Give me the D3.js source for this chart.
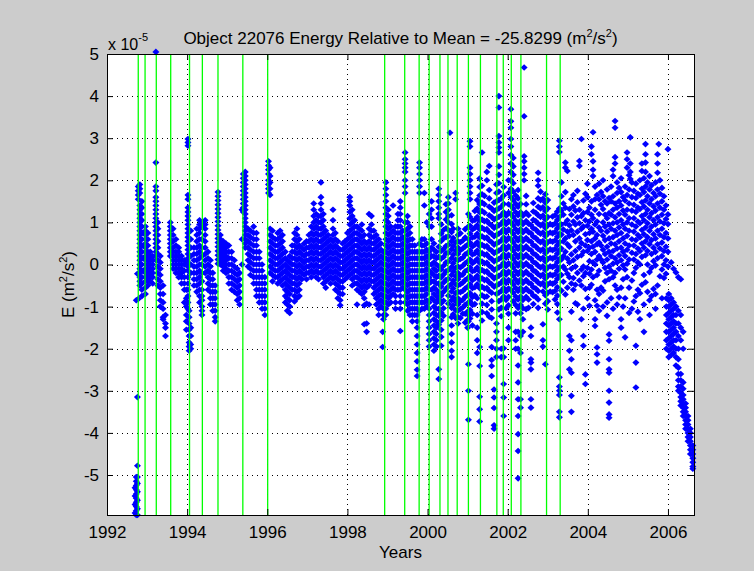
<!DOCTYPE html>
<html>
<head>
<meta charset="utf-8">
<script src="https://cdn.jsdelivr.net/npm/d3@7"></script>
<style>
  body { margin: 0; background: #cccccc; }
  #chart { width: 754px; height: 571px; }
  text { font-family: "Liberation Sans", Arial, sans-serif; fill: #000; }
</style>
</head>
<body>
<div id="chart"></div>
<script>

// Tick values
const xTicks = [1992, 1994, 1996, 1998, 2000, 2002, 2004, 2006];
const yTicks = [-5, -4, -3, -2, -1, 0, 1, 2, 3, 4, 5];

// Event epochs (green vertical lines), in years
const eventYears = [1992.78, 1992.95, 1993.23, 1993.59, 1994.06, 1994.38, 1994.77, 1995.39, 1996.01,
    1998.93, 1999.43, 1999.79, 2000.04, 2000.31, 2000.51, 2000.74, 2001.02, 2001.32, 2001.73,
    2001.89, 2002.09, 2002.33, 2002.97, 2003.31];

// Energy samples (units of 1e-5 m^2/s^2), grouped by epoch: [year, [values...]]
const pts1992 = [
    [1992.70, [-5.9, -5.7, -5.5, -5.3]],
    [1992.73, [-5.95, -5.85, -5.75, -5.65, -5.55, -5.45, -5.35, -5.25, -5.15, -5.05, -0.85]],
    [1992.76, [-5.95, -5.8, -5.6, -5.4, -5.2, -5.05, -4.78, -3.15, -0.22]],
    [1992.78, [1.85, 1.75, 1.65, 1.55, -0.82, -0.22]],
    [1992.82, [1.9, 1.8, 1.7, 1.4, 1.3, 1.2, 1.1, 1.0, 0.9, 0.8, 0.7, 0.6, 0.5, 0.4, 0.3, 0.2, 0.1, 0.0, -0.1, -0.2, -0.3, -0.4, -0.5]],
    [1992.87, [1.5, 1.35, 1.2, 1.05, 0.9, 0.75, 0.6, 0.45, 0.3, 0.15, 0, -0.15, -0.3, -0.45, -0.6, -0.75]],
    [1992.96, [0.9, 0.8, 0.7, 0.6, 0.5, 0.4, 0.3, 0.2, 0.1, 0, -0.1, -0.2, -0.3, -0.4, -0.55, -0.7]],
    [1993.02, [0.75, 0.6, 0.45, 0.3, 0.2, 0.1, 0, -0.1, -0.2, -0.3, -0.4, -0.5]],
    [1993.08, [0.3, 0.2, 0.1, 0, -0.1, -0.2, -0.3, -0.4]],
    [1993.14, [0.2, 0.1, 0, -0.1, -0.2, -0.3, -0.45]],
    [1993.22, [5.05, 2.42, 1.85, 1.75, 1.6, 1.5, 1.4, 1.3, 1.2, 1.1, 1.0, 0.9, 0.8, 0.7, 0.6, 0.5, 0.4, 0.3, 0.2, 0.1]],
    [1993.27, [1.0, 0.85, 0.7, 0.55, 0.4, 0.25, 0.1, -0.05, -0.2, -0.35, -0.5]],
    [1993.33, [0.2, 0.05, -0.1, -0.25, -0.4, -0.55, -0.7, -0.85, -1.0]],
    [1993.40, [-0.5, -0.7, -0.9, -1.05, -1.25, -1.3]],
    [1993.46, [-1.2, -1.4, -1.5, -1.7]],
    [1993.58, [1.0, 0.9, 0.8, 0.7, 0.6, 0.5, 0.4, 0.3, 0.2]],
    [1993.65, [0.85, 0.7, 0.55, 0.4, 0.3, 0.2, 0.1, 0, -0.1]],
    [1993.72, [0.6, 0.45, 0.3, 0.2, 0.1, 0, -0.1, -0.2]],
    [1993.79, [0.4, 0.3, 0.2, 0.1, 0, -0.1, -0.2, -0.3]],
    [1993.86, [0.2, 0.1, 0, -0.1, -0.2, -0.3, -0.45]],
    [1993.93, [0.1, 0, -0.15, -0.3, -0.45, -0.6, -0.9]],
    [1993.98, [-0.6, -0.8, -1.0, -1.2, -1.35, -1.55]],
    [1994.02, [2.98, 2.9, 2.82, 1.65, 1.55, 1.35, 1.25, 1.15, 1.05, 0.95, 0.85, 0.75, 0.65, 0.55, 0.45, 0.35, 0.25, 0.15, 0.05, -0.05, -0.15, -0.3, -0.45, -0.6, -0.75, -0.9, -1.05]],
    [1994.05, [-1.1, -1.25, -1.4, -1.55, -1.7, -1.85, -1.95, -2.05]],
    [1994.09, [0.8, 0.6, 0.4, 0.2, 0, -0.2, -1.5, -1.7, -1.9, -2.0]],
    [1994.17, [0.4, 0.25, 0.1, -0.05, -0.2, -0.35, -0.5]],
    [1994.24, [0.85, 0.7, 0.55, 0.4, 0.25, 0.1, -0.05, -0.2, -0.35, -0.5, -0.65]],
    [1994.31, [1.05, 0.95, 0.85, 0.75, 0.6, 0.45, 0.3, 0.15, 0, -0.15, -0.3, -0.45, -0.6, -0.75, -0.9]],
    [1994.37, [1.0, 0.9, 0.6, 0.4, 0.2, 0, -0.2, -0.4, -0.6, -0.75, -0.85, -1.0, -1.1, -1.2]],
    [1994.45, [1.05, 0.95, 0.85, 0.7, 0.55, 0.4, 0.25, 0.1, -0.05, -0.2]],
    [1994.52, [0.3, 0.15, 0, -0.15, -0.3, -0.45, -0.6]],
    [1994.58, [0.1, -0.05, -0.2, -0.35, -0.5, -0.65, -0.8, -0.95]],
    [1994.64, [-0.2, -0.35, -0.5, -0.65, -0.8, -0.95, -1.1]],
    [1994.70, [-0.5, -0.65, -0.8, -0.95, -1.1, -1.25, -1.35]],
    [1994.77, [1.72, 1.62, 1.52, 1.42, 1.32, 1.22, 1.12, 1.02, 0.92, 0.82, 0.72, 0.62, 0.52, 0.42, 0.32, 0.22, 0.12, 0.02]],
    [1994.83, [0.7, 0.6, 0.5, 0.4, 0.3, 0.2, 0.1, 0]],
    [1994.90, [0.55, 0.45, 0.35, 0.25, 0.15, 0.05, -0.05, -0.15]],
    [1994.97, [0.5, 0.4, 0.3, 0.2, 0.1, 0, -0.1, -0.2]],
    [1995.04, [0.45, 0.3, 0.15, 0, -0.15, -0.3, -0.45]],
    [1995.11, [0.3, 0.15, 0, -0.15, -0.3, -0.45, -0.6]],
    [1995.18, [0.1, -0.05, -0.2, -0.35, -0.5, -0.65]],
    [1995.25, [-0.1, -0.25, -0.4, -0.55, -0.7, -0.85]],
    [1995.31, [-0.2, -0.35, -0.5, -0.65, -0.8, -0.95]],
    [1995.37, [1.3, 0.6, 0.0]],
    [1995.40, [2.15, 2.05, 1.95, 1.85, 1.75, 1.65, 1.55, 1.45, 1.35, 1.25]],
    [1995.45, [2.2, 2.1, 2.0, 1.9, 1.8, 1.7, 1.6, 1.5, 1.4, 1.3, 1.2, 1.1, 1.0, 0.9, 0.8, 0.7, 0.6, 0.5, 0.4]],
    [1995.52, [0.85, 0.7, 0.55, 0.4, 0.25, 0.1, -0.05]],
    [1995.58, [0.8, 0.65, 0.5, 0.35, 0.2, 0.05, -0.1, -0.25]],
    [1995.66, [0.9, 0.75, 0.6, 0.45, 0.3, 0.15, 0, -0.15, -0.3, -0.45]],
    [1995.73, [0.75, 0.6, 0.45, 0.3, 0.15, 0, -0.15, -0.3, -0.45, -0.6, -0.75]],
    [1995.80, [0.3, 0.15, 0, -0.15, -0.3, -0.45, -0.6, -0.75, -0.9]],
    [1995.87, [0, -0.15, -0.3, -0.45, -0.6, -0.75, -0.9, -1.05]],
    [1995.94, [-0.3, -0.45, -0.6, -0.75, -0.9, -1.05, -1.2]]
];

const pts1996 = [
    [1996.03, [2.45, 2.35, 2.25, 2.15, 2.0, 1.9, 1.8, 1.7]],
    [1996.07, [2.3, 2.1, 1.95, 1.8, 1.65, 0.85, 0.7, 0.55, 0.4, 0.25, 0.1, -0.05, -0.2]],
    [1996.13, [0.8, 0.65, 0.5, 0.35, 0.2, 0.05, -0.1, -0.25, -0.4]],
    [1996.20, [0.6, 0.45, 0.3, 0.15, 0, -0.15, -0.3]],
    [1996.26, [0.75, 0.6, 0.45, 0.3, 0.15, 0, -0.15, -0.3, -0.45]],
    [1996.32, [0.8, 0.65, 0.5, 0.35, 0.2, 0.05, -0.1, -0.25, -0.4]],
    [1996.38, [0.7, 0.55, 0.4, 0.25, 0.1, -0.05, -0.2, -0.35, -0.5]],
    [1996.45, [0.3, 0.15, 0, -0.15, -0.3, -0.45, -0.6, -0.75, -0.9]],
    [1996.50, [0.1, -0.05, -0.2, -0.35, -0.5, -0.65, -0.8, -0.95, -1.1]],
    [1996.56, [0.2, 0.05, -0.1, -0.25, -0.4, -0.55, -0.7, -0.85, -1.0, -1.15]],
    [1996.62, [0.45, 0.3, 0.15, 0, -0.15, -0.3, -0.45, -0.6]],
    [1996.68, [0.75, 0.6, 0.45, 0.3, 0.15, 0, -0.15, -0.3, -0.45, -0.6, -0.75, -0.88]],
    [1996.74, [0.85, 0.7, 0.55, 0.4, 0.25, 0.1, -0.05, -0.2, -0.35, -0.5, -0.65, -0.8]],
    [1996.80, [0.6, 0.45, 0.3, 0.15, 0, -0.15, -0.3, -0.45, -0.6, -0.75]],
    [1996.86, [0.4, 0.25, 0.1, -0.05, -0.2, -0.35]],
    [1996.92, [0.5, 0.35, 0.2, 0.05, -0.1, -0.25]],
    [1996.98, [0.55, 0.4, 0.25, 0.1, -0.05, -0.2, -0.35]],
    [1997.04, [0.7, 0.55, 0.4, 0.25, 0.1, -0.05, -0.2]],
    [1997.10, [0.9, 0.75, 0.6, 0.45, 0.3, 0.15, 0, -0.15, -0.3]],
    [1997.16, [1.45, 1.3, 1.15, 1.0, 0.85, 0.7, 0.55, 0.4, 0.25, 0.1, -0.05, -0.2]],
    [1997.22, [1.2, 1.05, 0.9, 0.75, 0.6, 0.45, 0.3, 0.15, 0, -0.15, -0.3]],
    [1997.28, [1.15, 1.0, 0.85, 0.7, 0.55, 0.4, 0.25, 0.1, -0.05, -0.2, -0.35]],
    [1997.34, [1.95, 1.6, 1.45, 1.3, 1.15, 1.0, 0.85, 0.7, 0.55, 0.4, 0.25, 0.1, -0.05, -0.2]],
    [1997.40, [1.2, 1.05, 0.9, 0.75, 0.6, 0.45, 0.3, 0.15, 0, -0.15, -0.3, -0.45]],
    [1997.46, [0.8, 0.65, 0.5, 0.35, 0.2, 0.05, -0.1, -0.25, -0.4, -0.55]],
    [1997.52, [0.7, 0.55, 0.4, 0.25, 0.1, -0.05, -0.2, -0.35]],
    [1997.58, [0.6, 0.45, 0.3, 0.15, 0, -0.15, -0.3, -0.45]],
    [1997.64, [1.3, 1.05, 0.85, 0.7, 0.55, 0.4, 0.25, 0.1, -0.05, -0.2, -0.35]],
    [1997.70, [0.75, 0.6, 0.45, 0.3, 0.15, 0, -0.15, -0.3, -0.45, -0.6]],
    [1997.76, [0.55, 0.4, 0.25, 0.1, -0.05, -0.2, -0.35, -0.5, -0.65, -0.8]],
    [1997.82, [0.35, 0.2, 0.05, -0.1, -0.25, -0.4, -0.55, -0.7, -0.85, -0.97]],
    [1997.88, [0.5, 0.35, 0.2, 0.05, -0.1, -0.25, -0.4, -0.55, -0.7]],
    [1997.94, [0.55, 0.4, 0.25, 0.1, -0.05, -0.2, -0.35]],
    [1998.00, [0.75, 0.6, 0.45, 0.3, 0.15, 0, -0.15, -0.3]],
    [1998.06, [1.6, 1.5, 1.4, 1.25, 1.1, 0.95, 0.8, 0.65, 0.5, 0.35, 0.2, 0.05, -0.1, -0.25]],
    [1998.12, [1.3, 1.15, 1.0, 0.85, 0.7, 0.55, 0.4, 0.25, 0.1, -0.05, -0.2, -0.35, -0.5]],
    [1998.18, [1.05, 0.9, 0.75, 0.6, 0.45, 0.3, 0.15, 0, -0.15, -0.3, -0.45]],
    [1998.24, [0.9, 0.75, 0.6, 0.45, 0.3, 0.15, 0, -0.15, -0.3, -0.45, -0.6, -0.95]],
    [1998.30, [0.85, 0.7, 0.55, 0.4, 0.25, 0.1, -0.05, -0.2, -0.35, -0.5, -0.65]],
    [1998.36, [0.95, 0.8, 0.65, 0.5, 0.35, 0.2, 0.05, -0.1, -0.25, -0.4, -0.55, -0.7]],
    [1998.42, [0.7, 0.55, 0.4, 0.25, 0.1, -0.05, -0.2, -0.35, -0.5, -0.65, -0.8, -0.97, -1.42]],
    [1998.48, [0.5, 0.35, 0.2, 0.05, -0.1, -0.25, -0.4, -0.55, -0.93, -1.4, -1.6]],
    [1998.54, [1.2, 0.85, 0.7, 0.55, 0.4, 0.25, 0.1, -0.05, -0.2, -0.35, -0.5, -0.95]],
    [1998.60, [1.15, 0.95, 0.8, 0.65, 0.5, 0.35, 0.2, 0.05, -0.1, -0.25, -0.4]],
    [1998.66, [0.8, 0.65, 0.5, 0.35, 0.2, 0.05, -0.1, -0.25, -0.4, -0.55, -0.7]],
    [1998.72, [0.7, 0.55, 0.4, 0.25, 0.1, -0.05, -0.2, -0.35, -0.5, -0.65, -0.8, -0.95]],
    [1998.78, [0.6, 0.45, 0.3, 0.15, 0, -0.15, -0.3, -0.45, -0.6, -0.75, -0.9, -1.05, -1.2]],
    [1998.84, [0.5, 0.35, 0.2, 0.05, -0.1, -0.25, -0.4, -0.55, -0.7, -0.85, -1.0]],
    [1998.88, [-1.6, -1.96]],
    [1998.90, [0.3, 0.15, 0, -0.15, -0.3, -0.45, -0.6, -0.75, -0.9, -1.05, -1.2, -1.3]]
];

const pts1999 = [
    [1998.96, [1.95, 1.8, 1.65, 1.5, 1.35, 1.2, 1.05, 0.9, 0.75, 0.6, 0.45, 0.3, 0.15, 0, -0.15, -0.3, -0.45, -0.6, -0.75, -0.9, -1.05, -1.2]],
    [1999.02, [1.3, 1.15, 1.0, 0.85, 0.7, 0.55, 0.4, 0.25, 0.1, -0.05, -0.2, -0.35, -0.5, -0.65, -0.8, -0.95]],
    [1999.08, [0.9, 0.75, 0.6, 0.45, 0.3, 0.15, 0, -0.15, -0.3, -0.45, -0.6, -0.75, -0.9]],
    [1999.14, [1.4, 0.8, 0.65, 0.5, 0.35, 0.2, 0.05, -0.1, -0.25, -0.4, -0.55, -0.7]],
    [1999.20, [0.9, 0.75, 0.6, 0.45, 0.3, 0.15, 0, -0.15, -0.3, -0.45, -0.6, -0.75, -0.9, -1.05]],
    [1999.26, [1.2, 1.05, 0.9, 0.75, 0.6, 0.45, 0.3, 0.15, 0, -0.15, -0.3, -0.45, -0.6]],
    [1999.32, [1.5, 1.35, 1.2, 1.05, 0.9, 0.75, 0.6, 0.45, 0.3, 0.15, 0, -0.15, -0.3, -0.45, -0.6, -0.75, -0.9, -1.05, -1.58]],
    [1999.38, [0.8, 0.65, 0.5, 0.35, 0.2, 0.05, -0.1, -0.25, -0.4, -0.55]],
    [1999.44, [2.66, 2.5, 2.4, 2.3, 2.2, 2.0, 1.85, 1.7, 1.0, 0.8, 0.6, 0.45, 0.3, 0.15, 0, -0.15, -0.3, -0.45, -0.6, -0.75, -0.9]],
    [1999.50, [1.15, 1.0, 0.85, 0.7, 0.55, 0.4, 0.25, 0.1, -0.05, -0.2, -0.35, -0.5, -0.65, -0.8, -0.95, -1.1]],
    [1999.56, [0.9, 0.75, 0.6, 0.45, 0.3, 0.15, 0, -0.15, -0.3, -0.45, -0.6, -0.75, -0.9, -1.05, -1.2]],
    [1999.62, [0.6, 0.45, 0.3, 0.15, 0, -0.15, -0.3, -0.45, -0.6, -0.75, -0.9, -1.05, -1.2, -1.35]],
    [1999.68, [0.45, 0.3, 0.15, 0, -0.15, -0.3, -0.45, -0.6, -0.75, -0.9, -1.05, -1.2]],
    [1999.74, [0.3, 0.15, 0, -0.15, -0.3, -0.45, -0.6, -0.75, -0.9, -1.05, -1.2, -1.35, -1.5, -1.7, -1.9, -2.1, -2.3, -2.5, -2.65]],
    [1999.80, [2.42, 2.3, 2.15, 2.0, 1.85, 1.7, 0.5, 0.3, 0.15, 0, -0.15, -0.3, -0.45, -0.6, -0.75, -0.9, -1.1]],
    [1999.86, [0.6, 0.45, 0.3, 0.15, 0, -0.15, -0.3, -0.45, -0.6, -0.75, -0.9, -1.05]],
    [1999.92, [1.7, 1.4, 0.6, 0.45, 0.3, 0.15, 0, -0.15, -0.3, -0.45, -0.6, -0.75, -0.9, -1.05]],
    [1999.98, [1.0, 0.5, 0.35, 0.2, 0.05, -0.1, -0.25, -0.4, -0.55, -0.7, -0.85, -1.0]],
    [2000.04, [1.2, 0.9, 0.3, 0.15, 0, -0.15, -0.3, -0.45, -0.6, -0.9, -1.05, -1.2, -1.35, -1.5, -1.65, -1.8, -1.95]],
    [2000.10, [1.5, 1.3, 1.1, 0.9, 0.6, 0.4, 0.2, 0, -0.2, -0.4, -0.6, -0.8]],
    [2000.16, [0.5, 0.35, 0.2, 0.05, -0.1, -0.25, -0.4, -0.55, -0.7, -0.85, -1.0, -1.15, -1.3, -1.45, -1.6, -1.75, -1.9, -2.05]],
    [2000.22, [0.3, 0.15, 0, -0.15, -0.3, -0.45, -0.6, -0.75, -0.9, -1.05, -1.2, -1.35, -1.5, -1.65, -1.8, -1.95]],
    [2000.28, [1.8, 1.65, 1.5, 1.35, 1.2, 1.1, 0.42, 0.18, -0.04, -0.27, -0.45, -0.66, -0.83, -1.05, -1.22, -1.43, -2.49, -2.72]],
    [2000.34, [0.95, 0.73, 0.56, 0.32, 0.14, -0.12, -0.31, -0.53, -0.74, -0.92, -1.14, -1.33, -1.55, -1.72, -1.93]],
    [2000.40, [0.82, 0.62, 0.37, 0.18, -0.03, -0.24, -0.43, -0.65, -0.86, -1.04, -1.22]],
    [2000.46, [1.43, 1.25, 1.07, 0.86, 0.65, 0.44, 0.27, 0.05, -0.16, -0.37, -0.58]],
    [2000.52, [1.6, 1.45, 1.3, 1.15, 1.0, 0.82, 0.67, 0.47, 0.28, 0.07, -0.13, -0.34, -0.52, -0.74, -0.93]],
    [2000.56, [3.13]],
    [2000.60, [1.17, 0.96, 0.77, 0.55, 0.36, 0.15, -0.06, -0.25, -0.46, -0.64, -0.85, -1.03, -1.25, -1.45, -1.65, -1.85, -2.05, -2.2]],
    [2000.64, [0.85, 0.63, 0.44, 0.23, 0.03, -0.17, -0.38, -0.57, -0.78, -0.97, -1.18]],
    [2000.70, [1.7, 1.55, 0.53, 0.33, 0.12, -0.08, -0.28, -0.47, -0.68, -0.87, -1.08, -1.27]],
    [2000.76, [0.85, 0.7, 0.55, 0.4, 0.25, 0.1, -0.05, -0.2, -0.35, -0.5, -0.65, -0.8, -0.95, -1.1, -1.25, -1.4]],
    [2000.82, [0.74, 0.53, 0.34, 0.13, -0.07, -0.26, -0.47, -0.66, -0.87, -1.06, -1.27]],
    [2000.88, [0.57, 0.38, 0.16, -0.03, -0.24, -0.43, -0.63, -0.84, -1.02, -1.17]],
    [2000.94, [0.84, 0.64, 0.43, 0.24, 0.03, -0.16, -0.37, -0.57, -0.77, -0.96, -1.17, -1.38]],
    [2001.00, [0.47, 0.27, 0.07, -0.13, -0.33, -0.53, -0.73, -0.92, -1.12, -1.32, -1.5]],
    [2001.02, [1.2, 0.9, 0.6, -1.2, -1.35, -2.37, -3.0, -3.69]],
    [2001.06, [2.93, 2.8, 2.3, 2.15, 2.0, 1.85, 1.7, 1.55, 1.13, 0.92, 0.73, 0.52, 0.33, 0.12, -0.07, -0.28, -0.47, -0.68, -0.87, -1.08, -1.28]],
    [2001.12, [1.04, 0.83, 0.64, 0.43, 0.24, 0.03, -0.16, -0.37, -0.56, -0.77, -0.96, -1.17, -1.45]],
    [2001.18, [1.27, 1.06, 0.87, 0.66, 0.47, 0.26, 0.07, -0.14, -0.33, -0.54, -0.73, -0.94]],
    [2001.24, [1.53, 1.33, 1.13, 0.93, 0.73, 0.53, 0.33, 0.13, -0.07, -0.27, -0.47, -0.8, -1.2, -1.5, -1.8, -2.1]],
    [2001.30, [2.04, 1.84, 1.64, 1.44, 1.24, 1.04, 0.84, 0.64, 0.44, 0.24, 0.04, -0.16, -0.36, -0.56, -1.96, -2.41, -3.14, -3.44, -3.73]],
    [2001.36, [2.66, 1.87, 1.67, 1.47, 1.27, 1.07, 0.87, 0.67, 0.47, 0.27, 0.07, -0.13, -0.33, -0.53, -0.73, -0.93, -1.13, -1.33]],
    [2001.42, [1.63, 1.43, 1.23, 1.03, 0.83, 0.63, 0.43, 0.23, 0.03, -0.17, -0.37, -0.57, -0.77]],
    [2001.48, [2.2, 2.0, 1.04, 0.84, 0.64, 0.44, 0.24, 0.04, -0.16, -0.36, -0.56, -0.76, -0.96, -1.16]],
    [2001.54, [2.34, 1.77, 1.57, 1.37, 1.17, 0.97, 0.77, 0.57, 0.37, 0.17, -0.03, -0.23, -0.43, -0.63, -1.24]],
    [2001.60, [1.33, 1.13, 0.93, 0.73, 0.53, 0.33, 0.13, -0.07, -0.27, -0.47, -0.67, -0.87, -1.07, -1.27, -1.96, -2.27, -2.41, -2.65]],
    [2001.66, [1.47, 1.27, 1.07, 0.87, 0.67, 0.47, 0.27, 0.07, -0.13, -0.33, -0.53, -2.97, -3.16, -3.41, -3.82, -3.9]],
    [2001.72, [1.9, 1.7, 1.5, 1.3, 1.1, 0.9, 0.7, 0.5, 0.3, 0.1, -0.1, -0.3, -0.5, -0.7, -1.4, -1.6, -1.8, -2.0, -2.2]],
    [2001.78, [4.0, 3.73, 3.05, 2.9, 2.78, 2.66, 2.33, 2.13, 1.93, 1.73, 1.53, 1.33, 1.13, 0.93, 0.73, 0.53, 0.33, 0.13, -0.07, -0.27, -0.47, -0.67, -0.87, -1.07]],
    [2001.84, [1.57, 1.37, 1.17, 0.97, 0.77, 0.57, 0.37, 0.17, -0.03, -0.23, -0.43, -0.63, -0.83, -1.03, -1.23, -2.0, -2.2]],
    [2001.90, [1.84, 1.64, 1.44, 1.24, 1.04, 0.84, 0.64, 0.44, 0.24, 0.04, -0.16, -0.36, -0.56, -0.76, -1.99, -2.2, -2.84, -3.16, -3.6]],
    [2001.96, [1.16, 0.96, 0.76, 0.56, 0.36, 0.16, -0.04, -0.24, -0.44, -0.64, -0.84, -1.04]],
    [2002.02, [2.0, 1.7, 1.43, 1.23, 1.03, 0.83, 0.63, 0.43, 0.23, 0.03, -0.17, -0.37, -0.57, -0.77, -0.97, -1.17, -1.5, -1.8]],
    [2002.08, [3.69, 3.4, 3.25, 2.98, 2.8, 2.6, 2.4, 2.2, 2.0, 1.8, 1.6, 1.4, 1.2, 1.0, 0.8, 0.6, 0.4, 0.2, 0, -0.2, -0.4, -0.6]],
    [2002.14, [2.53, 2.33, 2.13, 1.93, 1.73, 1.53, 1.33, 1.13, 0.93, 0.73, 0.53, 0.33, 0.13, -0.07, -0.27, -0.47, -0.67, -0.87]],
    [2002.20, [1.64, 1.44, 1.24, 1.04, 0.84, 0.64, 0.44, 0.24, 0.04, -0.16, -0.36, -0.56, -0.76, -0.96, -1.16, -1.6, -1.8, -2.0]],
    [2002.26, [1.77, 1.57, 1.37, 1.17, 0.97, 0.77, 0.57, 0.37, 0.17, -0.03, -0.23, -0.43, -0.63, -0.83, -1.03, -1.6, -2.0, -2.4, -2.8, -3.2, -3.6, -4.03, -4.43, -5.08]],
    [2002.32, [1.44, 1.24, 1.04, 0.84, 0.64, 0.44, 0.24, 0.04, -0.16, -0.36, -0.56, -0.76, -0.96, -1.16, -1.7, -2.1, -3.2, -3.4]],
    [2002.38, [1.16, 0.96, 0.76, 0.56, 0.36, 0.16, -0.04, -0.24, -0.44, -0.64, -0.84, -1.04, -1.3, -1.6]],
    [2002.41, [4.68, 3.52, 2.57, 2.45, 2.3, 2.15, 2.0]],
    [2002.46, [1.63, 1.43, 1.23, 1.03, 0.83, 0.63, 0.43, 0.23, 0.03, -0.17, -0.37, -0.57, -0.77, -1.06]],
    [2002.52, [1.17, 0.97, 0.77, 0.57, 0.37, 0.17, -0.03, -0.23, -0.43, -0.63, -0.83, -1.03]],
    [2002.58, [0.94, 0.74, 0.54, 0.34, 0.14, -0.06, -0.26, -0.46, -0.66, -1.5, -1.7, -2.25, -2.33, -2.49, -3.2, -3.4]],
    [2002.64, [1.46, 1.26, 1.06, 0.86, 0.66, 0.46, 0.26, 0.06, -0.14, -0.34, -0.54, -0.74, -0.94]],
    [2002.70, [1.23, 1.03, 0.83, 0.63, 0.43, 0.23, 0.03, -0.17, -0.37, -0.57, -0.77]],
    [2002.76, [2.18, 2.0, 1.87, 1.57, 1.37, 1.17, 0.97, 0.77, 0.57, 0.37, 0.17, -0.03, -0.23, -0.43, -0.63, -0.83, -1.03]],
    [2002.82, [1.73, 1.53, 1.33, 1.13, 0.93, 0.73, 0.53, 0.33, 0.13, -0.07, -0.27, -0.47]],
    [2002.88, [1.56, 1.36, 1.16, 0.96, 0.76, 0.56, 0.36, 0.16, -0.04, -0.24, -0.44, -0.64, -1.42, -1.8, -1.95]],
    [2002.94, [1.67, 1.47, 1.27, 1.07, 0.87, 0.67, 0.47, 0.27, 0.07, -0.13, -0.33, -0.53, -0.73, -0.93, -2.37]],
    [2003.00, [1.53, 1.33, 1.13, 0.93, 0.73, 0.53, 0.33, 0.13, -0.07, -0.27, -0.47, -0.67, -0.87, -1.07]],
    [2003.06, [0.96, 0.76, 0.56, 0.36, 0.16, -0.04, -0.24, -0.44, -0.64]],
    [2003.12, [1.14, 0.94, 0.74, 0.54, 0.34, 0.14, -0.06, -0.26, -0.46, -0.66]],
    [2003.18, [1.17, 0.97, 0.77, 0.57, 0.37, 0.17, -0.03, -0.23, -0.43, -0.63, -0.83]],
    [2003.24, [1.26, 1.06, 0.86, 0.66, 0.46, 0.26, 0.06, -0.14, -0.34, -0.54, -0.74, -0.94, -1.14]],
    [2003.29, [2.94, 2.8, 2.67, 1.33, 1.13, 0.93, 0.73, 0.53, 0.33, 0.13, -0.07, -0.27, -1.3, -2.68, -2.9, -3.0, -3.1, -3.5, -3.63]]
];

const pts2003 = [
    [2003.34, [1.95, 1.62, 1.28, 0.95, 0.71, 0.38, 0.12, -0.25, -0.62]],
    [2003.39, [1.45, 1.18, 0.83, 0.55, 0.2, -0.05, -0.41]],
    [2003.44, [2.42, 2.3, 1.72, 1.35, 0.98, 0.62, 0.3, -0.12, -0.71]],
    [2003.49, [2.22, 1.05, 0.78, 0.48, 0.14, -0.22, -0.55]],
    [2003.54, [1.32, 0.93, 0.68, 0.42, 0.05, -0.3, -1.7, -2.05, -2.49]],
    [2003.59, [1.55, 1.18, 0.81, 0.24, -0.1, -0.45, -1.12, -1.8, -2.25, -2.57, -3.12, -3.5]],
    [2003.64, [1.65, 1.38, 1.02, 0.7, 0.1, -0.32, -0.6]],
    [2003.69, [1.28, 0.95, 0.55, 0.32, -0.05, -0.48, -0.92]],
    [2003.74, [1.75, 1.48, 1.12, 0.78, 0.18, -0.2, -0.95]],
    [2003.79, [2.46, 2.34, 1.3, 0.98, 0.62, 0.4, -0.38]],
    [2003.84, [2.98, 1.15, 0.85, 0.51, 0.22, -0.12, -0.5, -1.3]],
    [2003.89, [1.52, 1.22, 0.9, 0.3, -0.05, -0.28, -1.05, -1.7, -1.93]],
    [2003.94, [1.68, 1.05, 0.72, 0.45, -0.2, -0.58, -2.61, -2.84]],
    [2003.99, [1.92, 1.6, 1.25, 0.92, 0.58, 0.32, -0.08, -0.8]],
    [2004.04, [1.35, 1.02, 0.75, 0.4, 0.08, -0.22, -0.55, -0.98]],
    [2004.09, [2.8, 2.62, 1.5, 1.18, 0.85, 0.55, 0.25, -0.12, -0.48]],
    [2004.13, [3.14, 2.45, 2.25, 2.1, 1.1, 0.78, 0.42, 0.05, -0.3]],
    [2004.18, [1.85, 1.55, 1.3, 0.95, 0.62, 0.3, 0, -0.85, -1.3, -1.46]],
    [2004.23, [1.65, 1.02, 0.7, 0.48, 0.12, -0.25, -0.6, -0.98, -1.97, -2.13, -2.33]],
    [2004.28, [1.92, 1.55, 1.2, 0.88, 0.52, 0.2, -0.15, -0.7, -1.1]],
    [2004.33, [1.72, 1.42, 0.8, 0.45, 0.12, -0.55]],
    [2004.38, [2.0, 1.62, 1.32, 1.0, 0.68, 0.35, 0.05, -0.62, -1.0]],
    [2004.43, [1.5, 1.18, 0.9, 0.58, 0.25, -0.08, -0.4]],
    [2004.48, [1.78, 1.45, 1.1, 0.78, 0.42, 0.12, -0.2, -0.9, -1.22]],
    [2004.53, [1.58, 1.22, 0.95, 0.62, 0.3, -0.05, -0.35, -1.66, -1.81, -2.25, -2.49, -2.57, -3.0, -3.28, -3.56, -3.64]],
    [2004.58, [1.85, 1.5, 1.18, 0.85, 0.5, 0.2, -0.15, -0.8]],
    [2004.63, [2.25, 2.1, 1.62, 1.3, 0.98, 0.65, 0.32, 0.02, -0.3, -1.05]],
    [2004.68, [3.41, 3.25, 2.55, 2.4, 1.45, 1.12, 0.8, 0.48, 0.15, -0.2, -0.5]],
    [2004.73, [1.95, 1.7, 1.35, 1.0, 0.7, 0.38, 0.05, -0.6, -0.95]],
    [2004.78, [1.82, 1.5, 1.2, 0.88, 0.55, 0.22, -0.1, -0.78]],
    [2004.83, [2.05, 1.72, 1.4, 1.05, 0.75, 0.4, 0.1, -0.55, -1.3, -1.5]],
    [2004.88, [1.6, 1.28, 0.95, 0.62, 0.3, -0.02, -0.35, -1.0]],
    [2004.93, [1.85, 1.52, 1.18, 0.85, 0.5, 0.2, -0.12, -0.8, -1.73]],
    [2004.98, [2.66, 2.5, 2.3, 1.65, 1.3, 1.0, 0.68, 0.35, 0.02, -0.3]],
    [2005.03, [2.12, 1.78, 1.45, 1.1, 0.8, 0.45, 0.12, -0.55, -1.15]],
    [2005.06, [3.02, 2.4, 2.2, 2.03]],
    [2005.10, [1.95, 1.6, 1.28, 0.95, 0.6, 0.28, -0.38, -1.05]],
    [2005.15, [1.75, 1.42, 1.1, 0.78, 0.45, 0.12, -0.2, -0.88]],
    [2005.20, [1.92, 1.58, 1.25, 0.9, 0.58, 0.25, -0.08, -0.75, -1.93, -2.33, -2.92]],
    [2005.25, [1.68, 1.35, 1.02, 0.7, 0.38, 0.05, -0.6, -1.12]],
    [2005.30, [2.0, 1.65, 1.32, 0.98, 0.65, 0.32, 0, -0.68, -1.3]],
    [2005.35, [2.4, 2.22, 1.8, 1.48, 1.15, 0.82, 0.5, 0.18, -0.48]],
    [2005.40, [2.05, 1.72, 1.38, 1.05, 0.72, 0.4, -0.25, -0.95, -1.6]],
    [2005.44, [2.86, 2.62, 2.42, 2.2, 1.85, 1.52, 1.2, 0.88, 0.55, 0.22, -0.42]],
    [2005.49, [1.95, 1.62, 1.3, 0.98, 0.65, 0.32, 0, -0.65]],
    [2005.54, [2.1, 1.78, 1.45, 1.12, 0.8, 0.48, -0.18, -0.85, -1.2]],
    [2005.59, [1.88, 1.55, 1.22, 0.9, 0.58, 0.25, -0.08, -0.75]],
    [2005.64, [1.7, 1.38, 1.05, 0.72, 0.4, 0.08, -0.58]],
    [2005.69, [1.95, 1.62, 1.28, 0.95, 0.62, 0.3, -0.02, -0.7, -1.05]],
    [2005.74, [2.62, 2.4, 2.18, 1.78, 1.45, 1.12, 0.8, 0.48, 0.15, -0.5]],
    [2005.77, [2.86]],
    [2005.80, [2.0, 1.68, 1.35, 1.02, 0.7, 0.38, -0.28]],
    [2005.85, [1.82, 1.5, 1.18, 0.85, 0.52, 0.2, -0.12, -0.8]],
    [2005.90, [1.62, 1.3, 0.98, 0.65, 0.32, 0, -0.32]],
    [2005.95, [1.4, 1.08, 0.75, 0.42, 0.1, -0.22]],
    [2006.00, [2.74, 1.19, 0.96, 0.62, 0.3, -0.05]]
];

const pts2006 = [
    [2005.96, [-0.8, -1.0, -1.2, -1.4, -1.6, -1.8, -2.0]],
    [2006.02, [-0.7, -0.85, -1.0, -1.15, -1.3, -1.45, -1.6, -1.75, -1.9, -2.05, -2.2]],
    [2006.08, [0.05, -0.8, -0.95, -1.1, -1.25, -1.4, -1.55, -1.7, -1.85, -2.0, -2.15]],
    [2006.14, [-0.1, -0.9, -1.05, -1.2, -1.35, -1.5, -1.65, -1.8, -1.95, -2.1]],
    [2006.20, [-0.19, -1.0, -1.2, -1.4, -1.6, -1.8, -2.0, -2.2, -2.4]],
    [2006.26, [-0.3, -1.1, -1.4, -1.7, -2.0, -2.25, -2.45, -2.6, -2.75, -2.9, -3.0]],
    [2006.32, [-0.35, -1.2, -1.5, -1.8, -2.6, -2.75, -2.9, -3.05, -3.15, -3.25, -3.35]],
    [2006.38, [-1.6, -2.0, -2.8, -2.95, -3.1, -3.2, -3.3, -3.4, -3.5, -3.6]],
    [2006.44, [-3.3, -3.4, -3.5, -3.6, -3.7, -3.8, -3.9]],
    [2006.50, [-3.6, -3.7, -3.8, -3.9, -4.0, -4.1, -4.2]],
    [2006.56, [-3.9, -4.0, -4.1, -4.2, -4.3, -4.4, -4.5]],
    [2006.62, [-4.3, -4.4, -4.5, -4.6, -4.7, -4.8, -4.85]]
];


class EnergyPlot {

    constructor(parentElement, groups) {
        this.parentElement = parentElement;
        this.groups = groups;
        this.displayData = [];
    }

    initVis() {
        let vis = this;

        vis.margin = {top: 54, right: 60, bottom: 56, left: 107};
        vis.width = 754 - vis.margin.left - vis.margin.right;
        vis.height = 571 - vis.margin.top - vis.margin.bottom;

        vis.root = d3.select("#" + vis.parentElement).append("svg")
            .attr("width", 754)
            .attr("height", 571);

        // figure background
        vis.root.append("rect")
            .attr("width", 754).attr("height", 571)
            .attr("fill", "#cccccc");

        vis.svg = vis.root.append("g")
            .attr("transform", "translate(" + vis.margin.left + "," + vis.margin.top + ")");

        vis.svg.append("rect")
            .attr("width", vis.width).attr("height", vis.height)
            .attr("fill", "#ffffff");

        // Scales
        vis.x = d3.scaleLinear().domain([1992, 2006.65]).range([0, vis.width]);
        vis.y = d3.scaleLinear().domain([-5.95, 5]).range([vis.height, 0]);

        // dotted grid
        vis.svg.append("g").selectAll("line.gx")
            .data(xTicks.filter(d => d > 1992))
            .enter().append("line")
            .attr("x1", d => Math.round(vis.x(d)) + 0.5).attr("x2", d => Math.round(vis.x(d)) + 0.5)
            .attr("y1", 0).attr("y2", vis.height)
            .attr("stroke", "#000").attr("stroke-width", 1)
            .attr("stroke-dasharray", "1,4");

        vis.svg.append("g").selectAll("line.gy")
            .data(yTicks.filter(d => d < 5))
            .enter().append("line")
            .attr("x1", 0).attr("x2", vis.width)
            .attr("y1", d => Math.round(vis.y(d)) + 0.5).attr("y2", d => Math.round(vis.y(d)) + 0.5)
            .attr("stroke", "#000").attr("stroke-width", 1)
            .attr("stroke-dasharray", "1,4");

        vis.dots = vis.svg.append("g");
        vis.events = vis.svg.append("g");

        // Axes (MATLAB style: inward ticks on all four sides)
        let fmt = d => String(d);
        vis.xAxis = d3.axisBottom(vis.x).tickValues(xTicks).tickSize(-6).tickPadding(11).tickFormat(fmt);
        vis.xAxisTop = d3.axisTop(vis.x).tickValues(xTicks).tickSize(-6).tickFormat("");
        vis.yAxis = d3.axisLeft(vis.y).tickValues(yTicks).tickSize(-6).tickPadding(8).tickFormat(fmt);
        vis.yAxisRight = d3.axisRight(vis.y).tickValues(yTicks).tickSize(-6).tickFormat("");

        vis.svg.append("g").attr("class", "x-axis axis")
            .attr("transform", "translate(0," + vis.height + ")");
        vis.svg.append("g").attr("class", "x-axis-top axis");
        vis.svg.append("g").attr("class", "y-axis axis");
        vis.svg.append("g").attr("class", "y-axis-right axis")
            .attr("transform", "translate(" + vis.width + ",0)");

        // box
        vis.svg.append("rect")
            .attr("x", 0.5).attr("y", 0.5)
            .attr("width", vis.width).attr("height", vis.height)
            .attr("fill", "none").attr("stroke", "#000").attr("stroke-width", 1);

        // Title
        let title = vis.root.append("text")
            .attr("x", vis.margin.left + vis.width / 2)
            .attr("y", 44)
            .attr("text-anchor", "middle")
            .style("font-size", "17px");
        title.append("tspan").text("Object 22076 Energy Relative to Mean = -25.8299 (m");
        title.append("tspan").attr("dy", -7).style("font-size", "11px").text("2");
        title.append("tspan").attr("dy", 7).text("/s");
        title.append("tspan").attr("dy", -7).style("font-size", "11px").text("2");
        title.append("tspan").attr("dy", 7).text(")");

        // exponent label
        let expo = vis.root.append("text")
            .attr("x", vis.margin.left + 1)
            .attr("y", 50)
            .style("font-size", "16px");
        expo.append("tspan").text("x 10");
        expo.append("tspan").attr("dy", -9).style("font-size", "11px").text("-5");

        // x label
        vis.root.append("text")
            .attr("x", vis.margin.left + vis.width / 2)
            .attr("y", 558)
            .attr("text-anchor", "middle")
            .style("font-size", "17px")
            .text("Years");

        // y label
        let ylab = vis.root.append("text")
            .attr("transform", "translate(74," + (vis.margin.top + vis.height / 2) + ") rotate(-90)")
            .attr("text-anchor", "middle")
            .style("font-size", "17px");
        ylab.append("tspan").text("E (m");
        ylab.append("tspan").attr("dy", -7).style("font-size", "11px").text("2");
        ylab.append("tspan").attr("dy", 7).text("/s");
        ylab.append("tspan").attr("dy", -7).style("font-size", "11px").text("2");
        ylab.append("tspan").attr("dy", 7).text(")");

        vis.wrangleData();
    }

    wrangleData() {
        let vis = this;

        vis.displayData = vis.groups.flatMap(group =>
            group.flatMap(([year, values]) => values.map(v => ({year: year, value: v}))));

        vis.updateVis();
    }

    updateVis() {
        let vis = this;

        let dots = vis.dots.selectAll(".pt").data(vis.displayData);

        dots.enter().append("path")
            .attr("class", "pt")
            .merge(dots)
            .attr("d", "M0,-3.3L3.5,0L0,3.3L-3.5,0Z")
            .attr("transform", d => "translate(" + vis.x(d.year) + "," + vis.y(d.value) + ")")
            .attr("fill", "#0000ff");

        dots.exit().remove();

        let lines = vis.events.selectAll(".event").data(eventYears);

        lines.enter().append("line")
            .attr("class", "event")
            .merge(lines)
            .attr("x1", d => vis.x(d)).attr("x2", d => vis.x(d))
            .attr("y1", 0).attr("y2", vis.height)
            .attr("stroke", "#00ff00")
            .attr("stroke-width", 1.3);

        lines.exit().remove();

        vis.svg.select(".x-axis").call(vis.xAxis);
        vis.svg.select(".x-axis-top").call(vis.xAxisTop);
        vis.svg.select(".y-axis").call(vis.yAxis);
        vis.svg.select(".y-axis-right").call(vis.yAxisRight);

        vis.svg.selectAll(".axis .domain").remove();
        vis.svg.selectAll(".axis text")
            .style("font-size", "17px")
            .style("font-family", "'Liberation Sans', Arial, sans-serif");
    }
}

let plot = new EnergyPlot("chart", [pts1992, pts1996, pts1999, pts2003, pts2006]);
plot.initVis();

</script>
</body>
</html>
